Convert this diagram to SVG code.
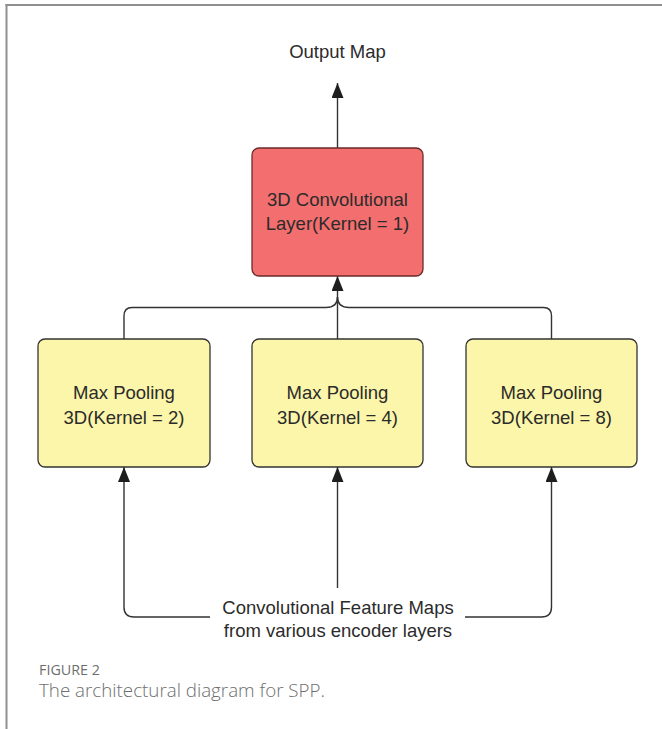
<svg xmlns="http://www.w3.org/2000/svg" width="662" height="729" viewBox="0 0 662 729">
<style>
.t{font-family:"Liberation Sans",Arial,sans-serif;font-size:18.5px;fill:#2b2b2b;text-anchor:middle}
.box{stroke:#333;stroke-width:1.3}
.y{fill:#fbf6a9}
.r{fill:#f36e6e;stroke:#6b2b2b}
.c{fill:none;stroke:#333;stroke-width:1.4}
.cap{font-family:"Open Sans","Noto Sans",sans-serif;fill:#6e6e6e}
</style>
<defs>
<marker id="ah" markerUnits="userSpaceOnUse" markerWidth="16" markerHeight="12" viewBox="0 0 16 12" refX="15" refY="6" orient="auto">
<path d="M0,0 L15,6 L0,12 z" fill="#1e1e1e"/>
</marker>
</defs>
<rect width="662" height="729" fill="#fff"/>
<g id="frame">
<line x1="5.5" y1="5" x2="662" y2="5" stroke="#8f8f8f" stroke-width="2"/>
<line x1="6.5" y1="4" x2="6.5" y2="729" stroke="#8f8f8f" stroke-width="2"/>
</g>
<g id="connectors">
<line class="c" x1="337.5" y1="148" x2="337.5" y2="83" marker-end="url(#ah)"/>
<line class="c" x1="337.5" y1="339" x2="337.5" y2="276" marker-end="url(#ah)"/>
<path class="c" d="M124,339 V316 Q124,307.5 132,307.5 H326 Q337.5,307.5 337.5,297"/>
<path class="c" d="M551.5,339 V316 Q551.5,307.5 543.5,307.5 H349 Q337.5,307.5 337.5,297"/>
<path class="c" d="M210,617 H134 Q124,617 124,607 V467" marker-end="url(#ah)"/>
<path class="c" d="M465,617 H541.5 Q551.5,617 551.5,607 V467" marker-end="url(#ah)"/>
<line class="c" x1="337.5" y1="588" x2="337.5" y2="467" marker-end="url(#ah)"/>
</g>
<g id="output">
<text class="t" x="337.5" y="58">Output Map</text>
</g>
<g id="conv3d">
<rect class="box r" x="252" y="148" width="171" height="128" rx="7"/>
<text class="t" x="337.5" y="206">3D Convolutional</text>
<text class="t" x="337.5" y="230">Layer(Kernel = 1)</text>
</g>
<g id="pool2">
<rect class="box y" x="38" y="339" width="172" height="128" rx="7"/>
<text class="t" x="124" y="399">Max Pooling</text>
<text class="t" x="124" y="424">3D(Kernel = 2)</text>
</g>
<g id="pool4">
<rect class="box y" x="252" y="339" width="171" height="128" rx="7"/>
<text class="t" x="337.5" y="399">Max Pooling</text>
<text class="t" x="337.5" y="424">3D(Kernel = 4)</text>
</g>
<g id="pool8">
<rect class="box y" x="466" y="339" width="171" height="128" rx="7"/>
<text class="t" x="551.5" y="399">Max Pooling</text>
<text class="t" x="551.5" y="424">3D(Kernel = 8)</text>
</g>
<g id="features">
<text class="t" x="338" y="614">Convolutional Feature Maps</text>
<text class="t" x="338" y="637">from various encoder layers</text>
</g>
<g id="caption">
<text class="cap" x="39" y="675" font-size="15" font-weight="500" textLength="61" lengthAdjust="spacingAndGlyphs">FIGURE 2</text>
<text class="cap" x="39" y="697" font-size="18" font-weight="300" textLength="286" lengthAdjust="spacingAndGlyphs">The architectural diagram for SPP.</text>
</g>
</svg>
